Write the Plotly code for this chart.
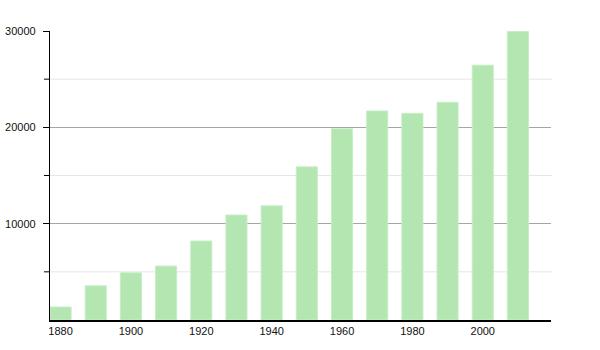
import plotly.graph_objects as go

years = [1880, 1890, 1900, 1910, 1920, 1930, 1940, 1950, 1960, 1970, 1980, 1990, 2000, 2010]
population = [1350, 3550, 4900, 5600, 8200, 10900, 11850, 15900, 19850, 21700, 21450, 22600, 26450, 29950]
x_ticks = [1880, 1900, 1920, 1940, 1960, 1980, 2000]
y_ticks = [10000, 20000, 30000]
y_minor = [5000, 15000, 25000]

fig = go.Figure()
fig.add_trace(go.Bar(
    x=years, y=population, width=6,
    marker=dict(color="#b3e6b1", line=dict(width=1, color="#c8eec6")),
))

shapes = []
for v in y_minor:
    shapes.append(dict(type="line", xref="paper", yref="y", x0=0, x1=1.002, y0=v, y1=v,
                       line=dict(color="#e6e6e6", width=1), layer="below"))
    shapes.append(dict(type="line", xref="paper", yref="y", x0=-0.012, x1=0, y0=v, y1=v,
                       line=dict(color="#000000", width=1)))

fig.update_layout(
    width=600, height=350,
    margin=dict(l=50, r=49, t=31, b=30),
    paper_bgcolor="white", plot_bgcolor="white",
    showlegend=False,
    shapes=shapes,
    font=dict(family="Liberation Sans, Arial, sans-serif", size=11, color="#111111"),
    xaxis=dict(
        range=[1877, 2019.4],
        tickmode="array", tickvals=x_ticks, ticktext=[str(t) for t in x_ticks],
        showgrid=False, zeroline=False,
        showline=True, linecolor="#000000", linewidth=1.5,
        ticks="", ticklen=0,
        automargin=False,
    ),
    yaxis=dict(
        range=[0, 30000],
        tickmode="array", tickvals=y_ticks, ticktext=[str(t) for t in y_ticks],
        showgrid=True, gridcolor="#a6a6a6", gridwidth=1,
        zeroline=False,
        showline=True, linecolor="#000000", linewidth=1.2,
        ticks="outside", ticklen=6, tickcolor="#000000",
        ticklabelstandoff=5,
        automargin=False,
    ),
)

fig.write_html("out.html")
